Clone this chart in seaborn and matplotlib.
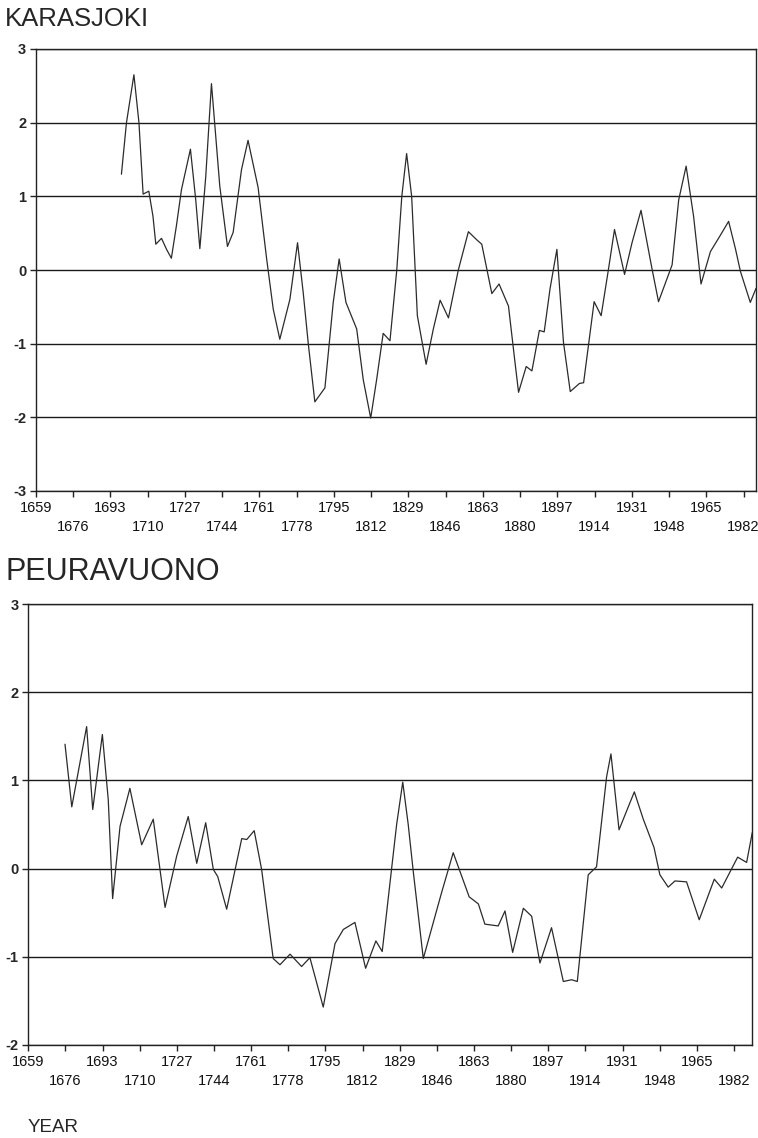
import matplotlib
matplotlib.use("Agg")
import matplotlib.pyplot as plt
import seaborn as sns
import pandas as pd

# ---------------- data ----------------
karasjoki_years = [1698.0, 1700.3, 1703.7, 1706.0, 1707.9, 1710.5, 1712.4, 1713.7, 1716.3, 1718.6,
                   1720.8, 1723.1, 1725.4, 1729.5, 1731.9, 1733.8, 1736.5, 1739.1, 1742.9, 1746.4,
                   1749.0, 1752.8, 1755.8, 1760.4, 1764.3, 1767.3, 1770.3, 1774.9, 1778.4, 1781.0,
                   1783.3, 1786.3, 1790.9, 1794.7, 1797.4, 1800.5, 1805.4, 1808.4, 1811.8, 1814.5,
                   1817.5, 1820.6, 1823.7, 1826.0, 1828.2, 1830.5, 1833.1, 1837.1, 1840.4, 1843.5,
                   1847.3, 1851.8, 1856.4, 1860.2, 1862.5, 1867.1, 1870.4, 1874.7, 1877.7, 1879.3,
                   1882.8, 1885.4, 1888.8, 1891.0, 1893.7, 1896.8, 1899.8, 1902.9, 1907.1, 1909.0,
                   1913.8, 1917.0, 1920.4, 1923.1, 1927.7, 1931.1, 1935.2, 1940.2, 1943.2, 1949.4,
                   1952.4, 1955.8, 1959.2, 1962.6, 1966.9, 1971.4, 1975.2, 1978.3, 1980.6, 1985.1,
                   1987.7]
karasjoki_values = [1.30, 2.00, 2.65, 2.00, 1.03, 1.07, 0.73, 0.35, 0.43, 0.28,
                    0.16, 0.60, 1.09, 1.64, 0.96, 0.29, 1.27, 2.53, 1.14, 0.32,
                    0.51, 1.36, 1.76, 1.12, 0.15, -0.53, -0.94, -0.40, 0.37, -0.31,
                    -1.00, -1.79, -1.60, -0.44, 0.15, -0.44, -0.80, -1.49, -2.01, -1.49,
                    -0.86, -0.96, 0.00, 1.00, 1.58, 1.00, -0.62, -1.28, -0.80, -0.41,
                    -0.65, 0.00, 0.52, 0.41, 0.35, -0.32, -0.19, -0.49, -1.26, -1.66,
                    -1.31, -1.37, -0.82, -0.84, -0.25, 0.28, -0.98, -1.65, -1.54, -1.53,
                    -0.43, -0.62, 0.02, 0.55, -0.06, 0.37, 0.81, 0.02, -0.43, 0.07,
                    0.95, 1.41, 0.73, -0.19, 0.25, 0.47, 0.66, 0.29, -0.02, -0.44,
                    -0.25]

peuravuono_years = [1675.8, 1678.9, 1685.7, 1688.5, 1692.9, 1695.6, 1697.6, 1701.0, 1705.5, 1710.9,
                    1716.2, 1721.6, 1726.9, 1732.2, 1736.1, 1740.2, 1743.7, 1745.7, 1749.8, 1756.7,
                    1759.0, 1762.4, 1765.8, 1771.1, 1774.2, 1778.8, 1784.1, 1787.9, 1794.0, 1799.4,
                    1803.2, 1808.5, 1813.4, 1818.1, 1821.0, 1825.3, 1827.6, 1830.4, 1832.9, 1835.2,
                    1839.8, 1848.2, 1853.5, 1860.8, 1865.0, 1868.0, 1874.1, 1877.2, 1880.7, 1885.6,
                    1889.4, 1893.2, 1898.5, 1903.9, 1907.7, 1910.3, 1915.3, 1919.1, 1923.7, 1925.7,
                    1929.4, 1936.4, 1940.5, 1945.4, 1948.1, 1951.9, 1955.0, 1960.3, 1966.1, 1973.0,
                    1976.4, 1983.7, 1987.8, 1990.4]
peuravuono_values = [1.41, 0.70, 1.61, 0.67, 1.52, 0.78, -0.34, 0.48, 0.91, 0.27,
                     0.56, -0.44, 0.14, 0.59, 0.06, 0.52, -0.01, -0.09, -0.46, 0.34,
                     0.33, 0.43, -0.01, -1.02, -1.09, -0.97, -1.11, -1.01, -1.57, -0.85,
                     -0.69, -0.61, -1.13, -0.82, -0.94, 0.00, 0.50, 0.98, 0.50, -0.03,
                     -1.02, -0.27, 0.18, -0.32, -0.40, -0.63, -0.65, -0.48, -0.95, -0.45,
                     -0.54, -1.07, -0.67, -1.28, -1.26, -1.28, -0.07, 0.02, 1.04, 1.30,
                     0.44, 0.87, 0.56, 0.24, -0.07, -0.21, -0.14, -0.15, -0.58, -0.12,
                     -0.22, 0.13, 0.07, 0.41]

tick_years = list(range(1659, 1983, 17))
tick_labels = [str(y) if i % 2 == 0 else "\n" + str(y) for i, y in enumerate(tick_years)]
titles = ["KARASJOKI", "PEURAVUONO"]
x_title = "YEAR"

# ---------------- style ----------------
sns.set_style("white")
plt.rcParams["font.family"] = ["Liberation Sans", "DejaVu Sans"]

fig = plt.figure(figsize=(7.58, 11.38), dpi=100)
ax1 = fig.add_axes([36 / 758, 1 - 491 / 1138, 720 / 758, 442 / 1138])
ax2 = fig.add_axes([28.3 / 758, 1 - 1045 / 1138, 724 / 758, 441 / 1138])

df1 = pd.DataFrame({"year": karasjoki_years, "value": karasjoki_values})
df2 = pd.DataFrame({"year": peuravuono_years, "value": peuravuono_values})

for ax, df, ylim, xlim in [(ax1, df1, (-3, 3), (1659, 1987.7)),
                           (ax2, df2, (-2, 3), (1659, 1990.4))]:
    sns.lineplot(data=df, x="year", y="value", ax=ax, color="#2b2b2b",
                 linewidth=0.9, estimator=None, sort=False)
    for ln in ax.get_lines():
        ln.set_solid_joinstyle("round")
    ax.set_xlim(*xlim)
    ax.set_ylim(*ylim)
    ax.set_yticks(range(ylim[0], ylim[1] + 1))
    ax.set_yticklabels([str(v) for v in range(ylim[0], ylim[1] + 1)],
                       fontsize=10.5, fontweight="bold")
    ax.set_xticks(tick_years)
    ax.set_xticklabels(tick_labels, fontsize=10.5, color="#111111")
    for lbl in ax.get_xticklabels():
        lbl.set_linespacing(1.45)
    ax.grid(False)
    ax.yaxis.grid(True, color="#1a1a1a", linewidth=1.0)
    ax.set_axisbelow(True)
    for sp in ax.spines.values():
        sp.set_visible(True)
        sp.set_color("#222222")
        sp.set_linewidth(1.0)
    ax.tick_params(axis="both", direction="out", length=4, width=1, color="#222222",
                   bottom=True, left=True, pad=3)
    ax.set_xlabel("")
    ax.set_ylabel("")

fig.text(5 / 758, 1 - 19 / 1138, titles[0], fontsize=18.5, va="center", ha="left")
fig.text(5 / 758, 1 - 572 / 1138, titles[1], fontsize=22, va="center", ha="left")
fig.text(28 / 758, 1 - 1127 / 1138, x_title, fontsize=13.5, va="center", ha="left")

fig.savefig("out.png", dpi=100)
